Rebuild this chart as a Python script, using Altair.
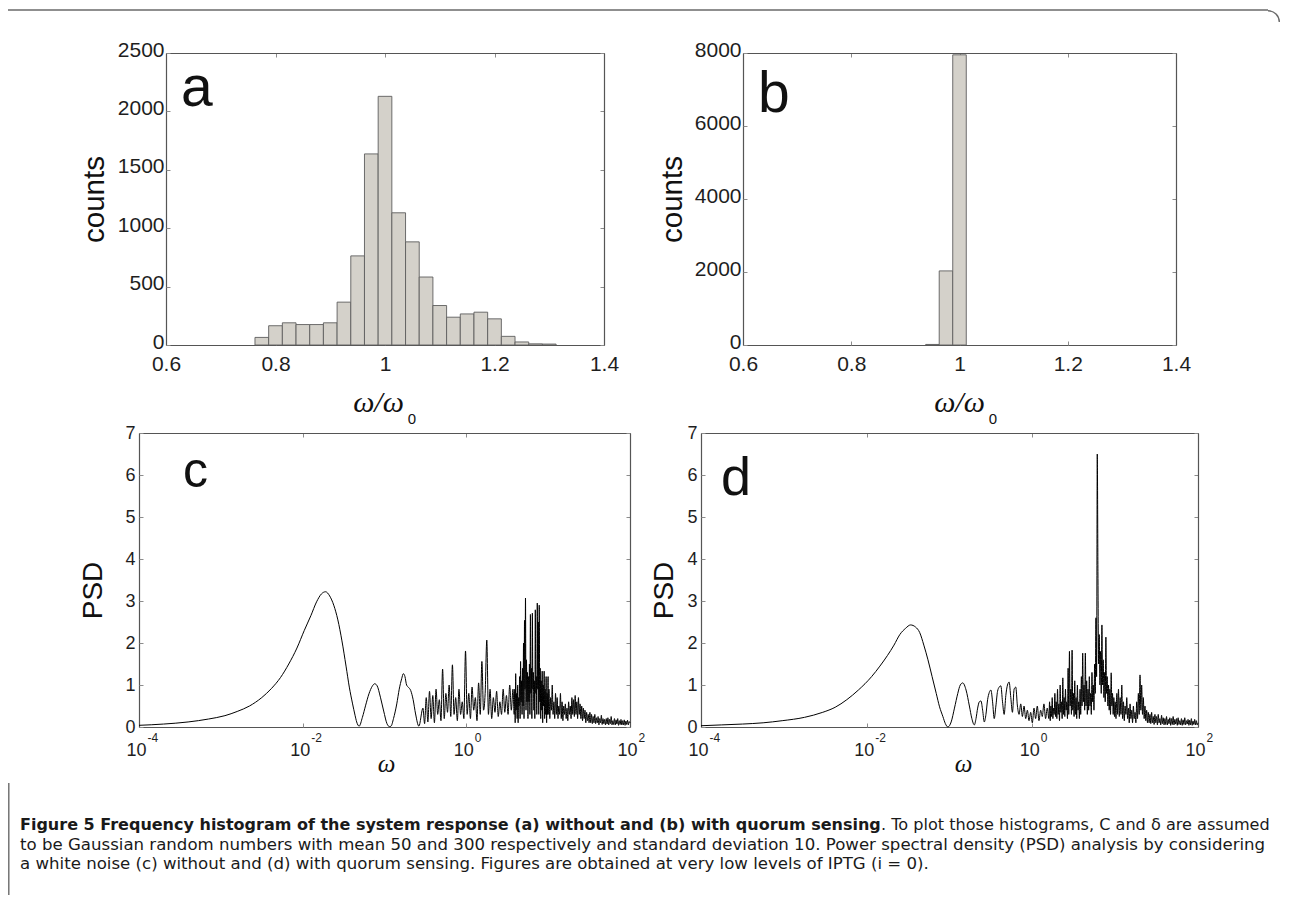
import altair as alt
import pandas as pd

# ---------------- values ----------------
HIST_BIN_WIDTH = 0.025
a_bin_centers = [0.775, 0.8, 0.825, 0.85, 0.875, 0.9, 0.925, 0.95, 0.975, 1.0, 1.025,
                 1.05, 1.075, 1.1, 1.125, 1.15, 1.175, 1.2, 1.225, 1.25, 1.275, 1.3]
a_counts = [65, 165, 190, 175, 175, 190, 367, 763, 1636, 2129, 1132,
            883, 582, 338, 238, 266, 281, 224, 74, 26, 10, 8]
b_bin_centers = [0.95, 0.975, 1.0]
b_counts = [15, 2030, 7950]

hist_xticks = [0.6, 0.8, 1.0, 1.2, 1.4]
a_yticks = [0, 500, 1000, 1500, 2000, 2500]
b_yticks = [0, 2000, 4000, 6000, 8000]
psd_xticks = [1e-4, 1e-2, 1.0, 1e2]
psd_yticks = [0, 1, 2, 3, 4, 5, 6, 7]

# panel c : PSD without quorum sensing (log10 of omega, PSD)
c_smooth_log10w = [-4.0, -3.7, -3.4, -3.15, -2.95, -2.8, -2.65, -2.5, -2.38, -2.27, -2.17, -2.07,
                   -1.98, -1.9, -1.83, -1.77, -1.72, -1.67, -1.62, -1.57, -1.52, -1.47, -1.43,
                   -1.39, -1.36, -1.34, -1.31, -1.27, -1.23, -1.19, -1.15, -1.12, -1.09, -1.05,
                   -1.01, -0.97, -0.94, -0.92, -0.89, -0.85, -0.82, -0.79, -0.77, -0.75, -0.73,
                   -0.71, -0.68, -0.65, -0.62, -0.58]
c_smooth_psd = [0.04, 0.07, 0.12, 0.19, 0.27, 0.37, 0.5, 0.7, 0.92, 1.18, 1.5, 1.88,
                2.3, 2.65, 2.98, 3.17, 3.22, 3.12, 2.9, 2.55, 2.05, 1.45, 0.95,
                0.55, 0.28, 0.12, 0.02, 0.23, 0.52, 0.79, 0.97, 1.03, 0.98, 0.71,
                0.38, 0.08, 0.01, 0.02, 0.2, 0.55, 0.9, 1.15, 1.27, 1.2, 1.0,
                0.95, 0.87, 0.65, 0.31, 0.02]
c_noise1 = (-0.53, 0.02, [0.45, 0.08, 0.7, 0.12, 0.85, 0.2, 0.75, 0.1, 0.9, 0.3,
                          0.65, 0.15, 1.38, 0.2, 0.8, 0.35, 1.0, 0.25, 1.48, 0.3,
                          0.7, 0.15, 0.9, 0.3, 0.6, 0.2, 1.81, 0.3, 0.8, 0.2,
                          0.95, 0.4, 0.7, 0.15, 1.05, 0.3, 1.56, 0.4, 0.8, 2.07,
                          0.3, 0.9, 0.2, 0.7, 0.35, 0.85, 0.25, 0.6, 0.3, 0.9,
                          0.35, 0.75, 0.3, 1.0, 0.4, 0.9])
c_noise2 = (0.585, 0.006, [0.3, 0.9, 0.1, 1.27, 0.4, 0.8, 0.2, 1.0, 0.1, 0.7,
                           0.5, 1.2, 0.2, 1.56, 0.6, 1.1, 0.3, 1.4, 0.5, 2.0,
                           0.2, 2.54, 0.9, 3.07, 0.4, 1.6, 0.6, 1.3, 0.2, 1.2,
                           0.6, 1.5, 0.3, 2.68, 0.8, 1.4, 0.2, 2.71, 0.9, 1.3,
                           0.4, 1.1, 0.2, 2.79, 0.8, 1.2, 0.3, 2.95, 0.9, 2.5,
                           0.3, 2.9, 0.6, 1.4, 0.2, 1.1, 0.4, 1.33, 0.1, 1.0,
                           0.5, 1.33, 0.2, 0.9, 0.3, 1.2, 0.1, 0.8, 0.3, 1.2])
c_noise3 = (1.0, 0.01, [0.3, 0.9, 0.2, 0.7, 0.4, 1.0, 0.3, 0.6, 0.2, 0.8,
                        0.3, 0.7, 0.2, 0.5, 0.3, 0.8, 0.2, 0.6, 0.15, 0.5,
                        0.3, 0.55, 0.2, 0.45, 0.15, 0.6, 0.3, 0.5, 0.2, 0.7,
                        0.3, 0.65, 0.25, 0.75, 0.3, 0.6, 0.2, 0.7, 0.3, 0.55,
                        0.2, 0.5, 0.15, 0.45, 0.2, 0.4, 0.1, 0.35, 0.15, 0.3,
                        0.1, 0.35, 0.1, 0.3, 0.08, 0.25, 0.1, 0.3, 0.08, 0.22,
                        0.1, 0.25, 0.05, 0.2, 0.1, 0.28, 0.06, 0.2, 0.08, 0.18,
                        0.05, 0.2, 0.07, 0.22, 0.05, 0.18, 0.08, 0.25, 0.05, 0.15,
                        0.06, 0.2, 0.05, 0.17, 0.07, 0.2, 0.04, 0.15, 0.06, 0.18,
                        0.05, 0.15, 0.05, 0.17, 0.04, 0.14, 0.06, 0.16, 0.05, 0.13,
                        0.1])

# panel d : PSD with quorum sensing
d_smooth_log10w = [-4.0, -3.75, -3.5, -3.25, -3.02, -2.75, -2.53, -2.38, -2.24, -2.1, -1.94,
                   -1.84, -1.75, -1.67, -1.6, -1.53, -1.47, -1.41, -1.36, -1.31, -1.26, -1.21,
                   -1.16, -1.12, -1.08, -1.05, -1.02, -0.98, -0.94, -0.9, -0.87, -0.84, -0.8,
                   -0.76, -0.73]
d_smooth_psd = [0.03, 0.05, 0.07, 0.1, 0.15, 0.23, 0.35, 0.47, 0.65, 0.88, 1.2,
                1.45, 1.7, 1.95, 2.2, 2.35, 2.43, 2.38, 2.25, 1.95, 1.6, 1.2,
                0.8, 0.48, 0.25, 0.08, 0.0, 0.12, 0.45, 0.8, 1.0, 1.05, 0.88,
                0.5, 0.2]
d_noise1 = (-0.70, 0.02, [0.05, 0.2, 0.45, 0.6, 0.62, 0.4, 0.12, 0.3, 0.65, 0.82,
                          0.88, 0.6, 0.2, 0.5, 0.85, 0.95, 0.98, 0.6, 0.3, 0.75,
                          1.0, 1.07, 0.7, 0.35, 0.9, 0.95, 0.5, 0.3, 0.55, 0.25,
                          0.5, 0.2, 0.4, 0.15, 0.35, 0.1, 0.45, 0.2, 0.5, 0.15,
                          0.4, 0.25, 0.55, 0.2, 0.45])
d_noise2 = (0.2, 0.008, [0.2, 0.6, 0.15, 0.5, 0.25, 0.7, 0.2, 0.45, 0.3, 0.8,
                         0.25, 0.6, 0.2, 0.9, 0.3, 0.55, 0.15, 1.0, 0.35, 0.6,
                         0.2, 1.17, 0.3, 0.7, 0.25, 0.9, 0.4, 0.6, 0.2, 1.4,
                         0.3, 1.8, 0.5, 0.9, 0.3, 1.83, 0.4, 0.8, 0.25, 1.1,
                         0.3, 0.7, 0.2, 1.0, 0.4, 0.6, 0.2, 0.9, 0.3, 1.2,
                         0.5, 1.76, 0.6, 1.0, 0.4, 1.76, 0.5, 1.1, 0.3, 0.9,
                         0.4, 1.2, 0.5, 0.8, 0.3, 1.3, 0.6, 1.0, 0.4, 1.5,
                         0.8, 2.6, 1.2, 6.5, 3.7, 1.5, 2.2, 1.0, 1.8, 0.8,
                         2.43, 1.0, 1.6, 0.7, 1.3, 0.6, 2.14, 0.8, 1.2, 0.5,
                         1.0, 0.4, 0.9, 0.3, 1.29, 0.5, 0.8, 0.3, 0.7, 0.25])
d_noise3 = (1.0, 0.01, [0.6, 0.2, 0.8, 0.3, 0.9, 0.25, 0.7, 0.3, 1.0, 0.2,
                        0.6, 0.15, 0.5, 0.3, 0.7, 0.2, 0.45, 0.1, 0.55, 0.2,
                        0.4, 0.1, 0.5, 0.2, 0.35, 0.1, 0.6, 0.2, 0.8, 0.3,
                        1.24, 0.4, 1.0, 0.3, 0.7, 0.2, 0.5, 0.15, 0.4, 0.1,
                        0.35, 0.1, 0.3, 0.08, 0.35, 0.1, 0.25, 0.06, 0.3, 0.1,
                        0.25, 0.05, 0.3, 0.1, 0.2, 0.05, 0.28, 0.08, 0.22, 0.05,
                        0.2, 0.06, 0.25, 0.05, 0.18, 0.08, 0.22, 0.04, 0.2, 0.06,
                        0.25, 0.05, 0.18, 0.07, 0.2, 0.04, 0.22, 0.06, 0.15, 0.05,
                        0.2, 0.04, 0.17, 0.06, 0.22, 0.05, 0.15, 0.07, 0.18, 0.04,
                        0.16, 0.05, 0.2, 0.04, 0.14, 0.06, 0.18, 0.05, 0.15, 0.05,
                        0.1])

caption_bold = "Figure 5 Frequency histogram of the system response (a) without and (b) with quorum sensing"
caption_rest1 = ". To plot those histograms, C and \u03b4 are assumed"
caption_line2 = ("to be Gaussian random numbers with mean 50 and 300 respectively and standard "
                 "deviation 10. Power spectral density (PSD) analysis by considering")
caption_line3 = ("a white noise (c) without and (d) with quorum sensing. Figures are obtained at "
                 "very low levels of IPTG (i = 0).")

# ---------------- layout (page pixels) ----------------
W, H = 1273, 887
def X(p):
    return p - 8
def Y(p):
    return p - 8

GEO = {
    "a": dict(L=166, R=604, T=53, B=345),
    "b": dict(L=743, R=1176, T=53, B=345),
    "c": dict(L=139, R=630, T=433, B=727),
    "d": dict(L=701, R=1198, T=433, B=727),
}
FONT = "Liberation Sans"
SERIF = "Liberation Serif"
FRAME = "#555555"
TICKC = "#8c8c8c"
LABELC = "#1e1e1e"
BAR_FILL = "#d4d1ca"
BAR_EDGE = "#5e5e5e"


def hist_df(centers, counts):
    return pd.DataFrame({
        "x0": [c - HIST_BIN_WIDTH / 2 for c in centers],
        "x1": [c + HIST_BIN_WIDTH / 2 for c in centers],
        "count": counts,
        "base": [0] * len(counts),
    })


def psd_df(smooth_e, smooth_v, segments):
    e = list(smooth_e)
    v = list(smooth_v)
    for start, step, vals in segments:
        for i, val in enumerate(vals):
            e.append(round(start + step * i, 4))
            v.append(val)
    return pd.DataFrame({"w": [10 ** x for x in e], "psd": v})


def scales(g, xdom, ydom, log):
    xs = alt.Scale(type="log" if log else "linear", domain=xdom,
                   range=[X(g["L"]), X(g["R"])], nice=False, zero=False)
    ys = alt.Scale(type="linear", domain=ydom, range=[Y(g["B"]), Y(g["T"])],
                   nice=False, zero=False)
    return xs, ys


def frame_layers(g, xdom, ydom, xvals, yvals, log):
    xs, ys = scales(g, xdom, ydom, log)
    d = pd.DataFrame({"x": xdom, "y": ydom})
    base = alt.Chart(d).mark_point(opacity=0, size=1)
    common = dict(grid=False, title=None, tickColor=TICKC, tickSize=4, tickWidth=1)
    inner = base.encode(
        x=alt.X("x:Q", scale=xs, axis=alt.Axis(orient="top", offset=-Y(g["B"]), values=xvals,
                                                labels=False, domain=False, ticks=True, **common)),
        y=alt.Y("y:Q", scale=ys, axis=alt.Axis(orient="right", offset=X(g["L"]) - W, values=yvals,
                                                labels=False, domain=False, ticks=True, **common)),
    )
    outer = base.encode(
        x=alt.X("x:Q", scale=xs, axis=alt.Axis(orient="bottom", offset=Y(g["T"]) - H, values=xvals,
                                                labels=False, domain=True, domainColor=FRAME,
                                                domainWidth=1.2, ticks=True, **common)),
        y=alt.Y("y:Q", scale=ys, axis=alt.Axis(orient="left", offset=-X(g["R"]), values=yvals,
                                                labels=False, domain=True, domainColor=FRAME,
                                                domainWidth=1.2, ticks=True, **common)),
    )
    layers = [inner, outer]
    if log:
        expo = base.encode(
            x=alt.X("x:Q", scale=xs, axis=alt.Axis(
                orient="bottom", offset=Y(g["B"]) - H, values=xvals,
                labelExpr="'' + round(log(datum.value) / LN10)", labelAlign="left",
                labelOffset=8, labelPadding=5, labelBaseline="top", labelFont=FONT,
                labelFontSize=12, labelColor=LABELC, labelFlush=False, labelOverlap=False,
                ticks=False, domain=False, grid=False, title=None)),
            y=alt.Y("y:Q", scale=ys, axis=None),
        )
        layers.append(expo)
    return layers


def hist_panel(key, centers, counts, ymax, yvals, ytitle_x, xtitle_x):
    g = GEO[key]
    xdom = [0.6, 1.4]
    ydom = [0, ymax]
    xs, ys = scales(g, xdom, ydom, False)
    xaxis = alt.Axis(orient="bottom", offset=Y(g["B"]) - H, values=hist_xticks, format="~g",
                     labelFont=FONT, labelFontSize=21, labelColor=LABELC, labelPadding=8,
                     labelFlush=False, labelOverlap=False, ticks=False, domain=True,
                     domainColor=FRAME, domainWidth=1.2, grid=False,
                     title="\u03c9/\u03c9", titleFont=SERIF, titleFontStyle="italic",
                     titleFontWeight="normal", titleFontSize=30, titleColor="#111",
                     titleX=X(xtitle_x), titleY=411 - g["B"], titleAlign="center",
                     titleBaseline="alphabetic", titleAngle=0)
    yaxis = alt.Axis(orient="left", offset=-X(g["L"]), values=yvals, format="d",
                     labelFont=FONT, labelFontSize=21, labelColor=LABELC, labelPadding=2,
                     labelOffset=-3, labelOverlap=False, ticks=False, domain=True,
                     domainColor=FRAME, domainWidth=1.2, grid=False, title="counts",
                     titleFont=FONT, titleFontWeight="normal", titleFontSize=29.5,
                     titleColor="#111", titleX=ytitle_x - g["L"], titleY=Y(199),
                     titleAngle=270, titleAlign="center", titleBaseline="middle")
    bars = alt.Chart(hist_df(centers, counts)).mark_bar(
        fill=BAR_FILL, stroke=BAR_EDGE, strokeWidth=0.9).encode(
        x=alt.X("x0:Q", scale=xs, axis=xaxis),
        x2="x1:Q",
        y=alt.Y("count:Q", scale=ys, axis=yaxis, stack=None),
        y2="base:Q",
    )
    return [bars] + frame_layers(g, xdom, ydom, hist_xticks, yvals, False)


def psd_panel(key, df, ytitle_x, xtitle_x):
    g = GEO[key]
    xdom = [1e-4, 1e2]
    ydom = [0, 7]
    xs, ys = scales(g, xdom, ydom, True)
    xaxis = alt.Axis(orient="bottom", offset=Y(g["B"]) - H, values=psd_xticks,
                     labelExpr="'10'", labelAlign="right", labelOffset=7, labelPadding=14,
                     labelBaseline="top", labelFont=FONT, labelFontSize=18, labelColor=LABELC,
                     labelFlush=False, labelOverlap=False, ticks=False, domain=True,
                     domainColor=FRAME, domainWidth=1.2, grid=False,
                     title="\u03c9", titleFont=SERIF, titleFontStyle="italic",
                     titleFontWeight="normal", titleFontSize=25, titleColor="#111",
                     titleX=X(xtitle_x), titleY=771 - g["B"], titleAlign="center",
                     titleBaseline="alphabetic", titleAngle=0)
    yaxis = alt.Axis(orient="left", offset=-X(g["L"]), values=psd_yticks, format="d",
                     labelFont=FONT, labelFontSize=18, labelColor=LABELC, labelPadding=4,
                     labelOverlap=False, ticks=False, domain=True, domainColor=FRAME,
                     domainWidth=1.2, grid=False, title="PSD", titleFont=FONT,
                     titleFontWeight="normal", titleFontSize=28, titleColor="#111",
                     titleX=ytitle_x - g["L"], titleY=Y(590), titleAngle=270,
                     titleAlign="center", titleBaseline="middle")
    line = alt.Chart(df).mark_line(color="black", strokeWidth=1, interpolate="monotone").encode(
        x=alt.X("w:Q", scale=xs, axis=xaxis),
        y=alt.Y("psd:Q", scale=ys, axis=yaxis),
    )
    return [line] + frame_layers(g, xdom, ydom, psd_xticks, psd_yticks, True)


ONE = pd.DataFrame({"k": [0]})


def text(s, x, y, size, font=FONT, weight="normal", style="normal", align="left",
         baseline="alphabetic", color="#111"):
    return alt.Chart(ONE).mark_text(text=s, font=font, fontSize=size, fontWeight=weight,
                                    fontStyle=style, align=align, baseline=baseline,
                                    color=color).encode(x=alt.value(X(x)), y=alt.value(Y(y)))


layers = []
layers += hist_panel("a", a_bin_centers, a_counts, 2500, a_yticks, 94, 378)
layers += hist_panel("b", b_bin_centers, b_counts, 8000, b_yticks, 672, 959)
layers += psd_panel("c", psd_df(c_smooth_log10w, c_smooth_psd, [c_noise1, c_noise2, c_noise3]), 93, 386)
layers += psd_panel("d", psd_df(d_smooth_log10w, d_smooth_psd, [d_noise1, d_noise2, d_noise3]), 664, 963)

# subscripts of omega_0 and panel letters
layers += [
    text("0", 412, 419, 15, align="center", baseline="middle"),
    text("0", 993, 419, 15, align="center", baseline="middle"),
    text("a", 181, 106, 57),
    text("b", 758, 112, 57),
    text("c", 183, 487, 50),
    text("d", 721, 495, 54),
]

# caption
CAPF = "DejaVu Sans"
layers += [
    text(caption_bold, 20, 825, 16.0, font=CAPF, weight="bold", baseline="middle", color="#1a1a1a"),
    text(caption_rest1, 881, 825, 16.1, font=CAPF, align="left", baseline="middle", color="#1a1a1a"),
    text(caption_line2, 20, 844.5, 16.6, font=CAPF, baseline="middle", color="#1a1a1a"),
    text(caption_line3, 20, 864, 16.6, font=CAPF, baseline="middle", color="#1a1a1a"),
]

# figure box border
BORDER = "#6a6a6a"
layers += [
    alt.Chart(ONE).mark_rule(color=BORDER, strokeWidth=1.4).encode(
        x=alt.value(0), x2=alt.value(X(1268)), y=alt.value(Y(10))),
    alt.Chart(ONE).mark_arc(radius=12, radius2=10.6, theta=0, theta2=1.5708, color=BORDER).encode(
        x=alt.value(X(1268)), y=alt.value(Y(22))),
    alt.Chart(ONE).mark_rule(color=BORDER, strokeWidth=1.4).encode(
        x=alt.value(X(8.8)), y=alt.value(Y(783)), y2=alt.value(H)),
]

chart = alt.layer(*layers).resolve_scale(x="independent", y="independent").properties(
    width=W, height=H, autosize=alt.AutoSizeParams(type="none"), padding=0,
    background="white",
).configure_view(stroke=None)

chart.save("out.html", embed_options={"renderer": "svg", "actions": False})
